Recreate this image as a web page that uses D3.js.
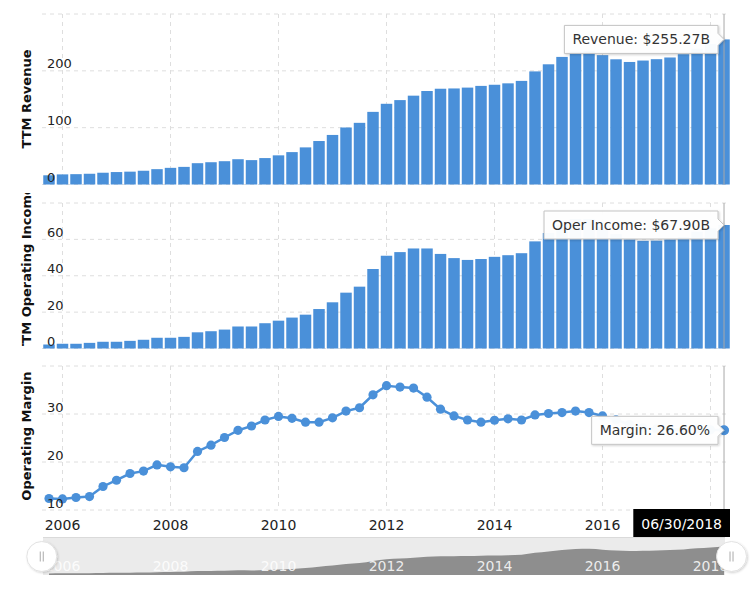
<!DOCTYPE html>
<html><head><meta charset="utf-8">
<script src="https://cdn.jsdelivr.net/npm/d3@7"></script>
<style>
body{margin:0;background:#fff}
svg{display:block}
text{font-family:"DejaVu Sans",Verdana,sans-serif}
</style>
</head><body>
<svg id="c" width="750" height="589"></svg>
<script>
// ---- data (TTM, quarterly) ----
const dates = [
 "12/31/2005",
 "03/31/2006","06/30/2006","09/30/2006","12/31/2006",
 "03/31/2007","06/30/2007","09/30/2007","12/31/2007",
 "03/31/2008","06/30/2008","09/30/2008","12/31/2008",
 "03/31/2009","06/30/2009","09/30/2009","12/31/2009",
 "03/31/2010","06/30/2010","09/30/2010","12/31/2010",
 "03/31/2011","06/30/2011","09/30/2011","12/31/2011",
 "03/31/2012","06/30/2012","09/30/2012","12/31/2012",
 "03/31/2013","06/30/2013","09/30/2013","12/31/2013",
 "03/31/2014","06/30/2014","09/30/2014","12/31/2014",
 "03/31/2015","06/30/2015","09/30/2015","12/31/2015",
 "03/31/2016","06/30/2016","09/30/2016","12/31/2016",
 "03/31/2017","06/30/2017","09/30/2017","12/31/2017",
 "03/31/2018","06/30/2018"
];
const revenue = [16.2,17.8,18.2,18.9,20.7,21.9,22.6,24.2,27.0,29.3,31.0,37.5,39.2,41.0,44.5,42.9,
 46.5,51.3,57.0,65.3,76.5,87.2,100.3,108.5,127.8,142.0,148.5,156.3,164.5,168.5,169.0,170.5,
 173.5,175.5,178.0,182.3,199.0,211.5,224.5,233.7,235.0,227.6,220.3,215.6,218.1,220.5,223.5,
 229.2,239.2,247.4,255.27];
const operIncome = [2.2,2.6,2.6,3.1,3.7,3.7,4.2,4.8,5.9,5.9,6.4,8.9,9.5,10.4,12.1,12.1,
 13.9,15.3,17.0,18.6,21.7,25.4,30.7,34.0,43.7,51.0,53.0,55.0,55.0,52.0,49.7,48.7,
 49.2,50.4,51.3,52.4,58.9,63.5,67.8,71.2,71.2,66.9,62.9,60.0,59.2,59.3,60.0,
 61.3,64.3,66.1,67.90];
const margin = [12.4,12.3,12.6,12.8,14.9,16.2,17.6,18.1,19.4,19.0,18.8,22.2,23.5,25.1,26.6,27.5,
 28.75,29.5,29.1,28.3,28.3,29.2,30.6,31.3,34.0,35.9,35.6,35.4,33.5,31.0,29.6,28.75,
 28.3,28.7,29.0,28.75,29.8,30.1,30.3,30.6,30.3,29.6,28.8,27.8,27.1,26.9,26.8,
 26.8,26.9,26.7,26.60];
const tickLabels = ["2006","2008","2010","2012","2014","2016","2018"];
const revTicks = [0,100,200,300], revLabels = [0,100,200];
const opTicks = [0,20,40,60,80], opLabels = [0,20,40,60];
const marTicks = [10,20,30,40], marLabels = [10,20,30];

// ---- layout ----
const BLUE = "#4a90d9";
const L = 43.26, R = 729.76;
const svg = d3.select("#c");
const defs = svg.append("defs");
const sh = defs.append("filter").attr("id","sh").attr("x","-20%").attr("y","-30%").attr("width","140%").attr("height","170%");
sh.append("feDropShadow").attr("dx",1).attr("dy",1).attr("stdDeviation",1.2).attr("flood-color","#000").attr("flood-opacity",0.18);

const x = d3.scaleBand().domain(dates).range([L, R]).paddingInner(0.15);
const cx = d => x(d) + x.bandwidth()/2;
const tickDates = tickLabels.map(y => "03/31/" + y);
const last = dates.length - 1;
const lastDate = dates[last];

const panels = [
 {data: revenue, y: d3.scaleLinear([0,300],[184.5,14]), ticks: revTicks, labels: revLabels,
  title: "TTM Revenue", titleY: 99, type: "bar",
  tip: v => "Revenue: $" + v.toFixed(2) + "B"},
 {data: operIncome, y: d3.scaleLinear([0,80],[348.5,203]), ticks: opTicks, labels: opLabels,
  title: "TTM Operating Income", titleY: 269.5, clip: [193,346], type: "bar",
  tip: v => "Oper Income: $" + v.toFixed(2) + "B"},
 {data: margin, y: d3.scaleLinear([10,40],[510,366]), ticks: marTicks, labels: marLabels,
  title: "Operating Margin", titleY: 436, type: "line",
  tip: v => "Margin: " + v.toFixed(2) + "%"}
];

panels.forEach((p, pi) => {
  const g = svg.append("g");
  const [y0, y1] = p.y.range();
  g.selectAll(".hg").data(p.ticks).join("line")
    .attr("x1", 42).attr("x2", 730)
    .attr("y1", d => p.y(d)).attr("y2", d => p.y(d))
    .attr("stroke", "#dedede").attr("stroke-dasharray", "4,4");
  g.selectAll(".vg").data(tickDates).join("line")
    .attr("x1", d => cx(d)).attr("x2", d => cx(d))
    .attr("y1", y1).attr("y2", y0)
    .attr("stroke", "#dedede").attr("stroke-dasharray", "4,4");
  if (p.type === "bar") {
    g.selectAll("rect").data(p.data).join("rect")
      .attr("x", (d,i) => x(dates[i])).attr("width", x.bandwidth())
      .attr("y", d => p.y(d)).attr("height", d => p.y(0) - p.y(d))
      .attr("fill", BLUE);
  } else {
    const line = d3.line().x((d,i) => cx(dates[i])).y(d => p.y(d));
    g.append("path").datum(p.data).attr("d", line)
      .attr("fill", "none").attr("stroke", BLUE).attr("stroke-width", 2.5);
    g.selectAll("circle").data(p.data).join("circle")
      .attr("cx", (d,i) => cx(dates[i])).attr("cy", d => p.y(d)).attr("r", 4.6)
      .attr("fill", BLUE);
  }
  const ax = g.append("g").attr("transform", "translate(47,-3)")
    .call(d3.axisRight(p.y).tickValues(p.labels).tickSize(0).tickPadding(0));
  ax.select(".domain").remove();
  ax.selectAll("text").attr("dy", null).attr("font-size", 13)
    .attr("font-family", "DejaVu Sans").attr("fill", "#222").attr("text-anchor", "start");
  let tg = svg.append("g");
  if (p.clip) {
    defs.append("clipPath").attr("id", "tc" + pi).append("rect")
      .attr("x", 0).attr("y", p.clip[0]).attr("width", 42).attr("height", p.clip[1] - p.clip[0]);
    tg.attr("clip-path", "url(#tc" + pi + ")");
  }
  tg.append("text").attr("transform", `translate(31,${p.titleY}) rotate(-90)`)
    .attr("text-anchor", "middle").attr("font-size", 13).attr("font-weight", "bold")
    .attr("fill", "#111").text(p.title);
});

// date label geometry (the crosshair label hides the axis label beneath it)
const hx = cx(lastDate);
const dateBoxW = (() => {
  const t = svg.append("text").attr("font-size", 14).text(lastDate);
  const w = t.node().getComputedTextLength() + 16; t.remove(); return w;
})();
const dateBoxX = 730 - dateBoxW;

// x axis
const xa = svg.append("g").attr("transform", "translate(0,517)")
  .call(d3.axisBottom(x).tickValues(tickDates.filter(d => cx(d) + 20 < dateBoxX))
    .tickFormat(d => d.slice(6)).tickSize(0).tickPadding(0));
xa.select(".domain").remove();
xa.selectAll("text").attr("dy", null).attr("y", 13).attr("font-size", 14)
  .attr("font-family", "DejaVu Sans").attr("fill", "#222");

// crosshair + tooltips
panels.forEach(p => {
  const [y0, y1] = p.y.range();
  svg.append("line").attr("x1", hx).attr("x2", hx).attr("y1", y1).attr("y2", y0)
    .attr("stroke", "#a8a8a8").attr("stroke-width", 1);
});
panels.forEach(p => {
  const v = p.data[last];
  const ay = p.y(v);
  if (p.type === "line") {
    svg.append("circle").attr("cx", hx).attr("cy", ay).attr("r", 5).attr("fill", BLUE);
  }
  const g = svg.append("g");
  const path = g.append("path");
  const t = g.append("text").attr("font-size", 14).attr("fill", "#333").text(p.tip(v));
  const tw = t.node().getComputedTextLength();
  const pad = 8, h = 28;
  const x1 = hx - 6, x0 = x1 - tw - 2*pad, yt = ay - h/2, yb = ay + h/2;
  path.attr("d", `M${x0},${yt}H${x1}V${ay-6}L${hx},${ay}L${x1},${ay+6}V${yb}H${x0}Z`)
    .attr("fill", "rgba(255,255,255,0.96)").attr("stroke", "#c4c4c4").attr("stroke-width", 1)
    .attr("filter", "url(#sh)");
  t.attr("x", x0 + pad).attr("y", ay + 5);
});

// date label
{
  const g = svg.append("g");
  g.append("rect").attr("x", dateBoxX).attr("y", 509).attr("width", dateBoxW).attr("height", 28).attr("fill", "#000");
  g.append("text").attr("font-size", 14).attr("fill", "#fff")
    .attr("text-anchor", "middle").attr("x", dateBoxX + dateBoxW/2).attr("y", 528.5).text(lastDate);
}

// navigator
{
  const top = 537, bot = 575;
  const g = svg.append("g");
  g.append("rect").attr("x", 43).attr("y", top).attr("width", hx + 1 - 43).attr("height", bot - top)
    .attr("fill", "#ebebeb");
  const yn = d3.scaleLinear([d3.min(revenue), d3.max(revenue)], [573.5, 546.5]);
  const area = d3.area().curve(d3.curveMonotoneX)
    .x((d,i) => cx(dates[i])).y0(bot).y1(d => yn(d));
  g.append("path").datum(revenue).attr("d", area).attr("fill", "#8e8e8e");
  g.append("line").attr("x1", 43).attr("x2", hx + 1).attr("y1", top + 0.5).attr("y2", top + 0.5)
    .attr("stroke", "#dadada");
  const na = g.append("g").attr("transform", `translate(0,${bot - 18})`)
    .call(d3.axisBottom(x).tickValues(tickDates).tickFormat(d => d.slice(6)).tickSize(0).tickPadding(0));
  na.select(".domain").remove();
  na.selectAll("text").attr("dy", null).attr("y", 13.5).attr("font-size", 14)
    .attr("font-family", "DejaVu Sans").attr("fill", "#fff").attr("fill-opacity", 0.85);
  [L - 1.5, hx + 7.5].forEach(hxp => {
    const hg = g.append("g").attr("transform", `translate(${hxp},556.5)`);
    hg.append("circle").attr("r", 15).attr("fill", "#fff").attr("stroke", "#e2e2e2")
      .attr("filter", "url(#sh)");
    [-1.5, 1.5].forEach(dx => hg.append("line").attr("x1", dx).attr("x2", dx)
      .attr("y1", -5).attr("y2", 5).attr("stroke", "#aaa").attr("stroke-width", 1));
  });
}
</script>
</body></html>
